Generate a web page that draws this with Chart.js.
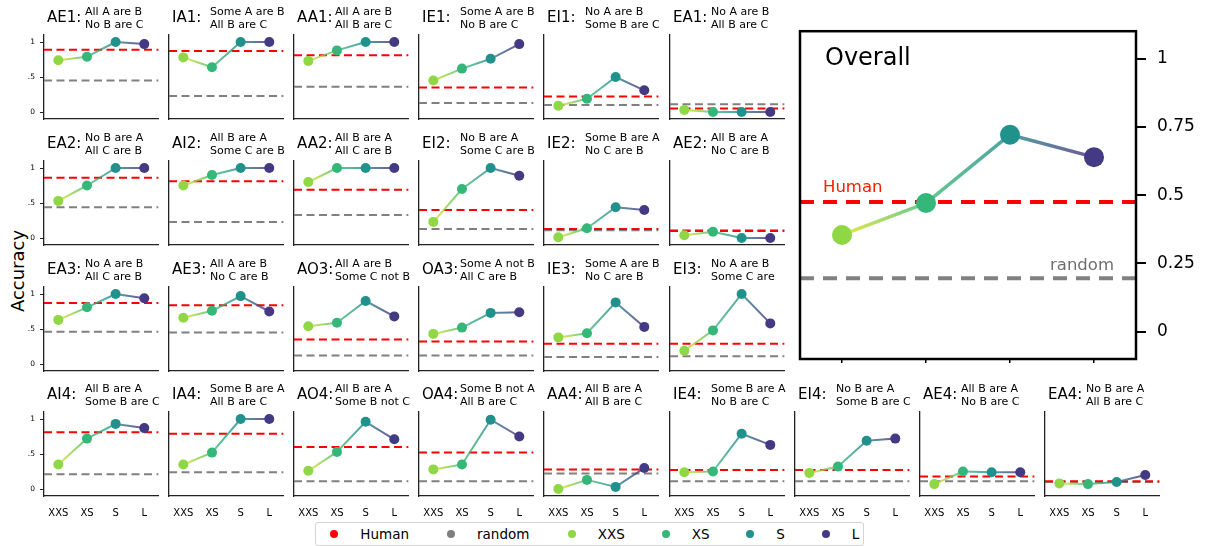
<!DOCTYPE html>
<html>
<head>
<meta charset="utf-8">
<script src="https://cdn.jsdelivr.net/npm/chart.js@4.4.1/dist/chart.umd.min.js"></script>
<style>
  html, body { margin: 0; padding: 0; background: #fff; }
  #fig { position: relative; width: 1206px; height: 546px; overflow: hidden; font-family: "DejaVu Sans", sans-serif; }
  #fig canvas { position: absolute; }
  .ylab { position: absolute; left: 17px; top: 271px; font-size: 18px; white-space: nowrap;
          transform: translate(-50%, -50%) rotate(-90deg); }
  #legend { position: absolute; left: 315px; top: 522px; width: 547px; height: 22px;
            border: 1px solid #d4d4d4; border-radius: 3px; background: #fff; }
  .ldot { position: absolute; width: 8px; height: 8px; border-radius: 50%; top: 6.5px; }
  .ltxt { position: absolute; font-size: 13.5px; line-height: 16px; top: 2.5px; white-space: nowrap; }
</style>
</head>
<body>
<div id="fig">
  <div class="ylab">Accuracy</div>
  <div id="legend"></div>
</div>
<script>
"use strict";

// syllogism codes and their two premises
var codes = ["AE1", "IA1", "AA1", "IE1", "EI1", "EA1",
  "EA2", "AI2", "AA2", "EI2", "IE2", "AE2",
  "EA3", "AE3", "AO3", "OA3", "IE3", "EI3",
  "AI4", "IA4", "AO4", "OA4", "AA4", "IE4", "EI4", "AE4", "EA4"];
var premise1 = ["All A are B", "Some A are B", "All A are B", "Some A are B", "No A are B", "No A are B",
  "No B are A", "All B are A", "All B are A", "No B are A", "Some B are A", "All B are A",
  "No A are B", "All A are B", "All A are B", "Some A not B", "Some A are B", "No A are B",
  "All B are A", "Some B are A", "All B are A", "Some B not A", "All B are A", "Some B are A", "No B are A", "All B are A", "No B are A"];
var premise2 = ["No B are C", "All B are C", "All B are C", "No B are C", "Some B are C", "All B are C",
  "All C are B", "Some C are B", "All C are B", "Some C are B", "No C are B", "No C are B",
  "All C are B", "No C are B", "Some C not B", "All C are B", "No C are B", "Some C are",
  "Some B are C", "All B are C", "Some B not C", "All B are C", "All B are C", "No B are C", "Some B are C", "No B are C", "All B are C"];

var sizes = ["XXS", "XS", "S", "L"];

var accXXS = [0.74, 0.78, 0.73, 0.45, 0.09, 0.03, 0.53, 0.75, 0.80, 0.23, 0.01, 0.04,
  0.63, 0.66, 0.54, 0.43, 0.38, 0.19, 0.35, 0.35, 0.26, 0.28, 0.00, 0.24, 0.23, 0.07, 0.08];
var accXS = [0.79, 0.64, 0.88, 0.62, 0.19, 0.00, 0.75, 0.90, 1.00, 0.70, 0.14, 0.09,
  0.81, 0.76, 0.59, 0.52, 0.44, 0.48, 0.72, 0.52, 0.53, 0.35, 0.13, 0.25, 0.32, 0.25, 0.07];
var accS = [1.00, 1.00, 1.00, 0.76, 0.50, 0.00, 1.00, 1.00, 1.00, 1.00, 0.44, 0.00,
  1.00, 0.97, 0.90, 0.73, 0.88, 1.00, 0.93, 1.00, 0.96, 0.99, 0.03, 0.79, 0.69, 0.24, 0.10];
var accL = [0.97, 1.00, 1.00, 0.97, 0.31, 0.00, 1.00, 1.00, 1.00, 0.89, 0.40, 0.00,
  0.94, 0.75, 0.68, 0.74, 0.53, 0.58, 0.87, 1.00, 0.71, 0.75, 0.30, 0.63, 0.72, 0.24, 0.20];
var humanAcc = [0.89, 0.87, 0.81, 0.35, 0.22, 0.05, 0.86, 0.81, 0.69, 0.40, 0.13, 0.10,
  0.87, 0.84, 0.35, 0.32, 0.29, 0.29, 0.81, 0.79, 0.60, 0.52, 0.28, 0.27, 0.27, 0.18, 0.11];
var randomAcc = [0.45, 0.23, 0.36, 0.13, 0.10, 0.11, 0.44, 0.23, 0.33, 0.13, 0.11, 0.11,
  0.46, 0.45, 0.12, 0.12, 0.10, 0.11, 0.21, 0.24, 0.11, 0.11, 0.22, 0.11, 0.11, 0.11, 0.10];

var overallAcc = [0.354, 0.471, 0.721, 0.639];
var overallHuman = 0.475;
var overallRandom = 0.196;

var smallTicks = [0, 0.5, 1];
var overallTicks = [0, 0.25, 0.5, 0.75, 1];

var pointColors = ["#8fd744", "#35b779", "#21918c", "#443983"];
var lineColors = ["rgba(225,228,28,0.8)", "rgba(62,188,115,0.8)", "rgba(36,138,141,0.8)", "rgba(76,44,124,0.8)"];

Chart.defaults.font.family = '"DejaVu Sans", sans-serif';
Chart.defaults.color = "#000";

var fig = document.getElementById("fig");

function segGradient(c) {
  var g = c.chart.ctx.createLinearGradient(c.p0.x, 0, c.p1.x, 0);
  g.addColorStop(0, lineColors[c.p0DataIndex]);
  g.addColorStop(1, lineColors[c.p1DataIndex]);
  return g;
}

function flatLine(v, color, width, dash) {
  return {
    data: [{ x: -0.5, y: v }, { x: 3.5, y: v }],
    borderColor: color, borderWidth: width, borderDash: dash,
    pointRadius: 0, order: 2
  };
}

function modelLine(vals, radius, width) {
  return {
    data: vals.map(function (v, k) { return { x: k, y: v }; }),
    borderColor: lineColors[0], borderWidth: width,
    segment: { borderColor: segGradient },
    pointRadius: radius, pointBackgroundColor: pointColors,
    pointBorderColor: pointColors, pointBorderWidth: 0, order: 0
  };
}

function addCanvas(left, top, w, h) {
  var c = document.createElement("canvas");
  c.width = w; c.height = h;
  c.style.left = left + "px"; c.style.top = top + "px";
  fig.appendChild(c);
  return c;
}

var titlePlugin = {
  id: "panelTitle",
  afterDraw: function (chart, args, o) {
    var ctx = chart.ctx, a = chart.chartArea;
    ctx.save();
    ctx.fillStyle = "#000";
    ctx.textBaseline = "alphabetic";
    ctx.font = '15px "DejaVu Sans"';
    ctx.fillText(o.code + ":", a.left + 3, a.top - 13.3);
    ctx.font = '11px "DejaVu Sans"';
    ctx.fillText(o.p1, a.left + 41, a.top - 19.7);
    ctx.fillText(o.p2, a.left + 41, a.top - 6.7);
    ctx.restore();
  }
};

var PAD_L = 40, PAD_T = 38, PAD_R = 6, PAD_B = 26, AX_W = 114.6, AX_H = 84;
var rowTops = [35, 161, 287, 412];

function smallPanel(i) {
  var row = i < 18 ? Math.floor(i / 6) : 3;
  var col = i < 18 ? i % 6 : i - 18;
  var axLeft = Math.round(44 + 125.1 * col);
  var axTop = rowTops[row];
  var firstCol = col === 0, lastRow = row === 3;
  var cw = Math.ceil(PAD_L + AX_W + PAD_R);
  var cv = addCanvas(axLeft - PAD_L, axTop - PAD_T, cw, PAD_T + AX_H + PAD_B);
  var spine = { display: true, color: "#222", width: 1.3 };
  var vals = [accXXS[i], accXS[i], accS[i], accL[i]];

  return new Chart(cv, {
    type: "line",
    data: {
      datasets: [
        modelLine(vals, 5, 2),
        flatLine(humanAcc[i], "#ff0000", 2, [8, 4.5]),
        flatLine(randomAcc[i], "#808080", 2, [8, 4.5])
      ]
    },
    options: {
      responsive: false, animation: false, devicePixelRatio: 1, events: [],
      layout: { padding: { left: 0, top: PAD_T, right: cw - PAD_L - AX_W, bottom: 0 } },
      plugins: {
        legend: { display: false }, tooltip: { enabled: false },
        panelTitle: { code: codes[i], p1: premise1[i], p2: premise2[i] }
      },
      scales: {
        x: {
          type: "linear", min: -0.5, max: 3.5,
          border: spine,
          grid: { display: false, drawTicks: false },
          afterBuildTicks: function (s) { s.ticks = [0, 1, 2, 3].map(function (v) { return { value: v }; }); },
          afterFit: function (s) { s.height = PAD_B; },
          ticks: {
            display: lastRow, padding: 11, font: { size: 10 }, maxRotation: 0,
            callback: function (v) { return sizes[v]; }
          }
        },
        y: {
          min: -0.1, max: 1.1,
          border: spine,
          grid: { display: firstCol, drawOnChartArea: false, drawTicks: true, tickLength: 4, color: "#222", lineWidth: 1 },
          afterBuildTicks: function (s) { s.ticks = smallTicks.map(function (v) { return { value: v }; }); },
          afterFit: function (s) { s.width = PAD_L; },
          ticks: {
            display: firstCol, padding: 5, font: { size: 7.5 },
            callback: function (v) { return v === 0.5 ? ".5" : String(v); }
          }
        }
      }
    },
    plugins: [titlePlugin]
  });
}

var overallPlugin = {
  id: "overallDeco",
  afterDraw: function (chart) {
    var ctx = chart.ctx, a = chart.chartArea, ys = chart.scales.y;
    ctx.save();
    ctx.strokeStyle = "#000";
    ctx.lineWidth = 2.5;
    ctx.strokeRect(a.left, a.top, a.width, a.height);
    ctx.textBaseline = "alphabetic";
    ctx.fillStyle = "#000";
    ctx.font = '24px "DejaVu Sans"';
    ctx.fillText("Overall", a.left + 25, a.top + 34);
    ctx.fillStyle = "#ff1a00";
    ctx.font = '16.5px "DejaVu Sans"';
    ctx.fillText("Human", a.left + 23, ys.getPixelForValue(overallHuman) - 10);
    ctx.fillStyle = "#6e6e6e";
    ctx.textAlign = "right";
    ctx.fillText("random", a.right - 22, ys.getPixelForValue(overallRandom) - 8);
    ctx.restore();
  }
};

function overallPanel() {
  var cv = addCanvas(790, 10, 416, 380);
  return new Chart(cv, {
    type: "line",
    data: {
      datasets: [
        modelLine(overallAcc, 10, 3.5),
        flatLine(overallHuman, "#ff0000", 4, [14, 9]),
        flatLine(overallRandom, "#808080", 4, [14, 9])
      ]
    },
    options: {
      responsive: false, animation: false, devicePixelRatio: 1, events: [],
      layout: { padding: { left: 10, top: 16, right: 0, bottom: 0 } },
      plugins: { legend: { display: false }, tooltip: { enabled: false } },
      scales: {
        x: {
          type: "linear", min: -0.5, max: 3.5,
          border: { display: false },
          grid: { display: true, drawOnChartArea: false, drawTicks: true, tickLength: 4, color: "#000", lineWidth: 1.5 },
          afterBuildTicks: function (s) { s.ticks = [0, 1, 2, 3].map(function (v) { return { value: v }; }); },
          afterFit: function (s) { s.height = 31; },
          ticks: { display: false }
        },
        y: {
          position: "right", min: -0.1, max: 1.1,
          border: { display: false },
          grid: { display: true, drawOnChartArea: false, drawTicks: true, tickLength: 10, color: "#000", lineWidth: 2 },
          afterBuildTicks: function (s) { s.ticks = overallTicks.map(function (v) { return { value: v }; }); },
          afterFit: function (s) { s.width = 70; },
          ticks: { padding: 11, font: { size: 17 }, callback: function (v) { return String(v); } }
        }
      }
    },
    plugins: [overallPlugin]
  });
}

function buildLegend() {
  var lg = document.getElementById("legend");
  var items = [["Human", "#ff0000", 334.3], ["random", "#808080", 451], ["XXS", pointColors[0], 571.7],
    ["XS", pointColors[1], 665.7], ["S", pointColors[2], 750.3], ["L", pointColors[3], 825.7]];
  items.forEach(function (it) {
    var x = it[2] - 316;
    var d = document.createElement("div");
    d.className = "ldot";
    d.style.left = (x - 4) + "px";
    d.style.background = it[1];
    lg.appendChild(d);
    var t = document.createElement("div");
    t.className = "ltxt";
    t.style.left = (x + 26) + "px";
    t.textContent = it[0];
    lg.appendChild(t);
  });
}

for (var i = 0; i < codes.length; i++) smallPanel(i);
overallPanel();
buildLegend();
</script>
</body>
</html>
